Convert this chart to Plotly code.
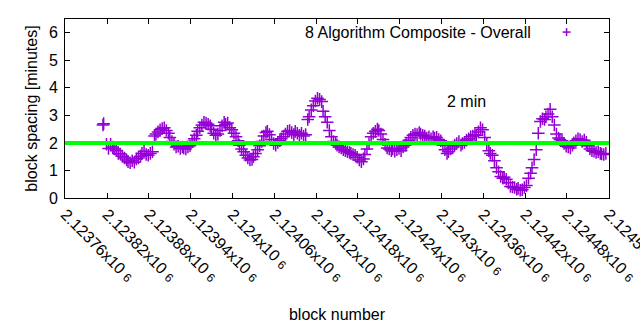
import plotly.graph_objects as go

# ---- data ----
first_blocks = [2123814, 2123815]
first_spacing = [2.65, 2.70]

series_start_block = 2123819
series_step = 20 / 7  # regular sampling of block numbers
spacing = [
    1.95, 1.80, 1.95, 1.85, 1.78, 1.72, 1.62, 1.60, 1.52, 1.45,
    1.38, 1.32, 1.28, 1.35, 1.30, 1.42, 1.45, 1.52, 1.62, 1.70,
    1.58, 1.55, 1.62, 1.68, 2.25, 2.32, 2.40, 2.48, 2.52, 2.55,
    2.45, 2.35, 2.20, 2.05, 1.95, 1.85, 1.88, 1.80, 1.85, 1.82,
    1.78, 1.85, 1.90, 2.05, 2.15, 2.28, 2.42, 2.55, 2.65, 2.75,
    2.72, 2.68, 2.62, 2.50, 2.35, 2.28, 2.32, 2.45, 2.62, 2.75,
    2.68, 2.72, 2.55, 2.48, 2.35, 2.22, 2.08, 1.92, 1.78, 1.68,
    1.55, 1.45, 1.38, 1.40, 1.50, 1.62, 1.75, 1.90, 2.05, 2.25,
    2.38, 2.42, 2.30, 2.12, 1.98, 1.92, 2.02, 2.08, 2.15, 2.22,
    2.32, 2.42, 2.45, 2.38, 2.30, 2.42, 2.35, 2.28, 2.35, 2.25,
    2.30, 2.85, 2.95, 3.20, 3.35, 3.52, 3.62, 3.58, 3.50, 3.15,
    2.95, 2.75, 2.45, 2.22, 2.05, 1.98, 1.92, 1.85, 1.82, 1.75,
    1.72, 1.68, 1.65, 1.62, 1.58, 1.55, 1.48, 1.38, 1.32, 1.42,
    1.58, 1.78, 1.98, 2.22, 2.35, 2.42, 2.50, 2.45, 2.32, 2.12,
    1.95, 1.82, 1.78, 1.72, 1.78, 1.70, 1.75, 1.80, 1.72, 1.85,
    1.92, 1.98, 2.10, 2.20, 2.28, 2.32, 2.30, 2.38, 2.32, 2.28,
    2.25, 2.18, 2.22, 2.15, 2.22, 2.18, 2.20, 2.12, 2.08, 1.92,
    1.75, 1.62, 1.68, 1.78, 1.85, 1.92, 1.98, 2.05, 1.92, 1.98,
    2.02, 2.10, 2.15, 2.22, 2.25, 2.30, 2.28, 2.40, 2.55, 2.48,
    2.20, 1.95, 1.72, 1.62, 1.55, 1.35, 1.10, 0.95, 0.78, 0.72,
    0.75, 0.68, 0.55, 0.42, 0.40, 0.38, 0.32, 0.35, 0.28, 0.30,
    0.38, 0.45, 0.72, 0.90, 1.10, 1.40, 1.75, 2.35, 2.78, 2.88,
    2.85, 2.95, 3.05, 3.22, 2.95, 2.65, 2.32, 2.18, 2.12, 2.08,
    1.98, 1.88, 1.85, 1.82, 1.92, 2.00, 2.08, 2.15, 2.12, 2.05,
    2.10, 2.02, 1.90, 1.78, 1.72, 1.70, 1.65, 1.68, 1.62, 1.60,
    1.58, 1.62,
]

target_minutes = 2
x_ticks = [2123760 + 60 * k for k in range(14)]
y_ticks = [0, 1, 2, 3, 4, 5, 6]
x_range = [2123759.5, 2124540.5]
y_range = [0, 6.5]
series_name = "8 Algorithm Composite - Overall"
note_text = "2 min"
note_pos = (2124305, 3.52)

# ---- build ----
blocks = first_blocks + [series_start_block + round(i * series_step) for i in range(len(spacing))]
values = first_spacing + spacing

purple = "#9400D3"
font = "Liberation Sans, Arial, sans-serif"
FS = 16

fig = go.Figure()
fig.add_trace(go.Scatter(
    x=blocks, y=values, mode="markers", name=series_name,
    marker=dict(symbol="cross-thin", size=9, line=dict(color=purple, width=1.5), color=purple),
    showlegend=False, cliponaxis=True,
))

fig.add_shape(type="line", xref="paper", x0=0, x1=1, yref="y", y0=target_minutes, y1=target_minutes,
              line=dict(color="#00FF00", width=4), layer="above")

tick_text = [f"{v/1e6:g}x10 <span style='font-size:12px'>6</span>" for v in x_ticks]

fig.update_xaxes(
    range=x_range, tickvals=x_ticks, ticktext=tick_text, tickangle=45,
    ticks="inside", ticklen=5, tickcolor="black", showline=True, linecolor="black",
    linewidth=1, mirror="ticks", showgrid=False, zeroline=False,
    title=dict(text="block number", font=dict(size=FS, color="black", family=font), standoff=24),
    tickfont=dict(size=FS, color="black", family=font),
    automargin=False, ticklabeloverflow="allow",
)
fig.update_yaxes(
    range=y_range, tickvals=y_ticks, ticks="inside", ticklen=5, tickcolor="black",
    showline=True, linecolor="black", linewidth=1, mirror="ticks", showgrid=False,
    zeroline=False,
    title=dict(text="block spacing [minutes]", font=dict(size=FS, color="black", family=font), standoff=7),
    tickfont=dict(size=FS, color="black", family=font),
    automargin=False, ticklabelstandoff=3,
)

# key (text then sample, gnuplot-style)
fig.add_annotation(xref="paper", yref="paper", x=0.860, y=0.927, text=series_name,
                   showarrow=False, xanchor="right", yanchor="middle",
                   font=dict(size=FS, color="black", family=font))
kx, ky, dx, dy = 0.922, 0.927, 0.0073, 0.0223
fig.add_shape(type="line", xref="paper", yref="paper", x0=kx - dx, x1=kx + dx, y0=ky, y1=ky,
              line=dict(color=purple, width=1.5))
fig.add_shape(type="line", xref="paper", yref="paper", x0=kx, x1=kx, y0=ky - dy, y1=ky + dy,
              line=dict(color=purple, width=1.5))

fig.add_annotation(x=note_pos[0], y=note_pos[1], text=note_text, showarrow=False,
                   xanchor="left", yanchor="middle",
                   font=dict(size=FS, color="black", family=font))

fig.update_layout(
    width=640, height=330, margin=dict(l=65, r=31, t=19, b=132),
    plot_bgcolor="white", paper_bgcolor="white", showlegend=False,
)

fig.write_html("out.html")
